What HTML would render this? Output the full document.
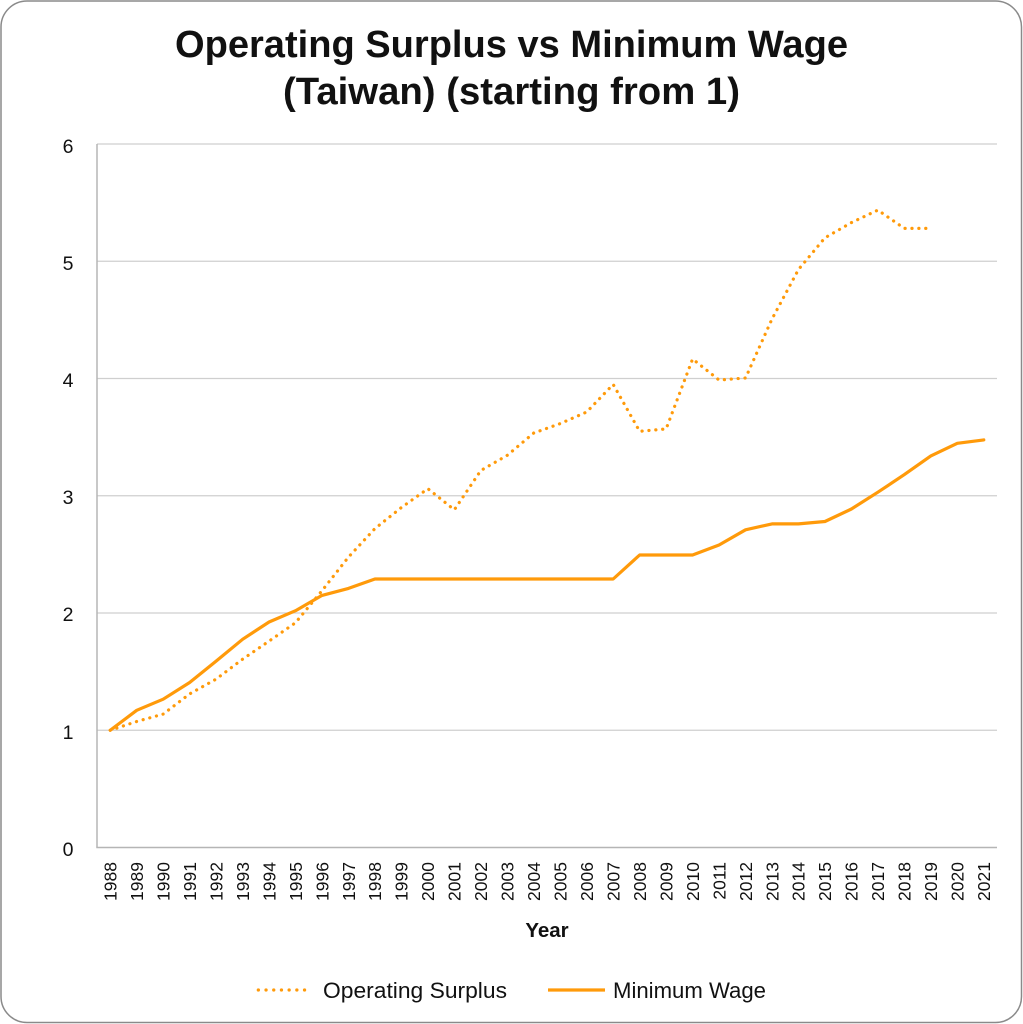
<!DOCTYPE html>
<html>
<head>
<meta charset="utf-8">
<style>
  html, body { margin:0; padding:0; background:#fff; }
  svg { display:block; }
  text { font-family: "Liberation Sans", "DejaVu Sans", sans-serif; fill:#111; }
</style>
</head>
<body>
<svg width="1023" height="1024" viewBox="0 0 1023 1024" xmlns="http://www.w3.org/2000/svg">
  <rect x="1" y="1" width="1020.5" height="1021.5" rx="26" ry="26" fill="#fff" stroke="#8a8a8a" stroke-width="1.5"/>

  <!-- Title -->
  <text x="511.5" y="57" text-anchor="middle" font-size="38" font-weight="bold" textLength="673" lengthAdjust="spacingAndGlyphs">Operating Surplus vs Minimum Wage</text>
  <text x="511.5" y="104" text-anchor="middle" font-size="38" font-weight="bold" textLength="457" lengthAdjust="spacingAndGlyphs">(Taiwan) (starting from 1)</text>

  <!-- Gridlines -->
  <g stroke="#cfcfcf" stroke-width="1.3">
    <line x1="97" y1="144" x2="997" y2="144"/>
    <line x1="97" y1="261.25" x2="997" y2="261.25"/>
    <line x1="97" y1="378.5" x2="997" y2="378.5"/>
    <line x1="97" y1="495.75" x2="997" y2="495.75"/>
    <line x1="97" y1="613" x2="997" y2="613"/>
    <line x1="97" y1="730.25" x2="997" y2="730.25"/>
  </g>
  <!-- Axes -->
  <g stroke="#b5b5b5" stroke-width="1.5">
    <line x1="97" y1="144" x2="97" y2="847.5"/>
    <line x1="96.3" y1="847.5" x2="997" y2="847.5"/>
  </g>

  <!-- Y tick labels -->
  <g font-size="19.5" text-anchor="middle">
    <text x="68" y="153">6</text>
    <text x="68" y="270">5</text>
    <text x="68" y="387">4</text>
    <text x="68" y="504">3</text>
    <text x="68" y="621">2</text>
    <text x="68" y="739">1</text>
    <text x="68" y="856">0</text>
  </g>

  <!-- X tick labels -->
  <g font-size="17.5" text-anchor="end">
    <text transform="translate(116.5,862) rotate(-90)">1988</text>
    <text transform="translate(143,862) rotate(-90)">1989</text>
    <text transform="translate(169.5,862) rotate(-90)">1990</text>
    <text transform="translate(196,862) rotate(-90)">1991</text>
    <text transform="translate(222.4,862) rotate(-90)">1992</text>
    <text transform="translate(248.9,862) rotate(-90)">1993</text>
    <text transform="translate(275.4,862) rotate(-90)">1994</text>
    <text transform="translate(301.8,862) rotate(-90)">1995</text>
    <text transform="translate(328.3,862) rotate(-90)">1996</text>
    <text transform="translate(354.8,862) rotate(-90)">1997</text>
    <text transform="translate(381.2,862) rotate(-90)">1998</text>
    <text transform="translate(407.7,862) rotate(-90)">1999</text>
    <text transform="translate(434.2,862) rotate(-90)">2000</text>
    <text transform="translate(460.6,862) rotate(-90)">2001</text>
    <text transform="translate(487.1,862) rotate(-90)">2002</text>
    <text transform="translate(513.6,862) rotate(-90)">2003</text>
    <text transform="translate(540,862) rotate(-90)">2004</text>
    <text transform="translate(566.5,862) rotate(-90)">2005</text>
    <text transform="translate(593,862) rotate(-90)">2006</text>
    <text transform="translate(619.5,862) rotate(-90)">2007</text>
    <text transform="translate(645.9,862) rotate(-90)">2008</text>
    <text transform="translate(672.4,862) rotate(-90)">2009</text>
    <text transform="translate(698.9,862) rotate(-90)">2010</text>
    <text transform="translate(725.3,862) rotate(-90)">2011</text>
    <text transform="translate(751.8,862) rotate(-90)">2012</text>
    <text transform="translate(778.3,862) rotate(-90)">2013</text>
    <text transform="translate(804.7,862) rotate(-90)">2014</text>
    <text transform="translate(831.2,862) rotate(-90)">2015</text>
    <text transform="translate(857.7,862) rotate(-90)">2016</text>
    <text transform="translate(884.2,862) rotate(-90)">2017</text>
    <text transform="translate(910.6,862) rotate(-90)">2018</text>
    <text transform="translate(937.1,862) rotate(-90)">2019</text>
    <text transform="translate(963.6,862) rotate(-90)">2020</text>
    <text transform="translate(990,862) rotate(-90)">2021</text>
  </g>

  <!-- X axis title -->
  <text x="547" y="937" text-anchor="middle" font-size="20.5" font-weight="bold">Year</text>

  <!-- Operating Surplus (dotted) -->
  <polyline fill="none" stroke="#FF9A0A" stroke-width="3.2" stroke-linecap="round" stroke-linejoin="round" stroke-dasharray="0.1 6.8"
    points="110.24,730.25 136.71,721.5 163.18,714.1 189.65,693.9 216.12,679.1 242.59,659.2 269.06,641.1 295.53,622.7 322,590.7 348.47,557.1 374.94,528.6 401.41,507.5 427.88,488.7 454.35,509.8 480.82,470.5 507.29,455.3 533.76,433 560.24,423.6 586.71,412 613.18,384.4 639.65,431.3 666.12,428.9 692.59,359 719.06,380 745.53,378 772,319 798.47,269.5 824.94,237.8 851.41,222.6 877.88,210.1 904.35,228.4 930.82,228.4"/>

  <!-- Minimum Wage (solid) -->
  <polyline fill="none" stroke="#FF9A0A" stroke-width="3.2" stroke-linejoin="round" stroke-linecap="round"
    points="110.24,730.25 136.71,710.3 163.18,699.2 189.65,682.5 216.12,661.1 242.59,639.3 269.06,622 295.53,610.7 322,595.4 348.47,588.4 374.94,579 401.41,579 427.88,579 454.35,579 480.82,579 507.29,579 533.76,579 560.24,579 586.71,579 613.18,579 639.65,555 666.12,555 692.59,555 719.06,545 745.53,529.8 772,523.9 798.47,523.9 824.94,521.5 851.41,509 877.88,492.2 904.35,474.6 930.82,455.9 957.29,443.3 983.76,439.9"/>

  <!-- Legend -->
  <line x1="258.3" y1="990" x2="312" y2="990" stroke="#FF9A0A" stroke-width="3.2" stroke-linecap="round" stroke-dasharray="0.1 7.6"/>
  <text x="323" y="998" font-size="22.5" textLength="184" lengthAdjust="spacingAndGlyphs">Operating Surplus</text>
  <line x1="548" y1="990" x2="605" y2="990" stroke="#FF9A0A" stroke-width="3.2"/>
  <text x="613" y="998" font-size="22.5" textLength="153" lengthAdjust="spacingAndGlyphs">Minimum Wage</text>
</svg>
</body>
</html>
